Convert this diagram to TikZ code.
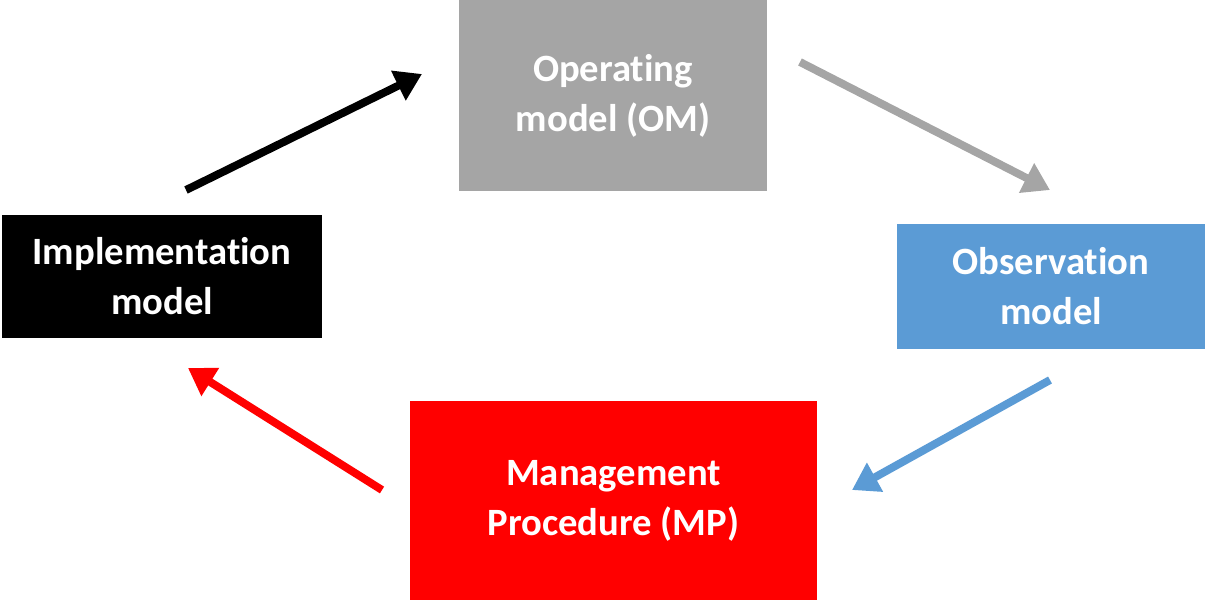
\documentclass[tikz,border=0pt]{standalone}
\usepackage{fontspec}
\setmainfont{Carlito}
\usepackage{tikz}
\usetikzlibrary{arrows.meta}

\definecolor{omgray}{HTML}{A5A5A5}
\definecolor{obsblue}{HTML}{5B9BD5}
\definecolor{mpred}{HTML}{FF0000}
% no ti ligature
\newcommand{\tiNoLig}{t\kern0pt i}

\tikzset{
  modelbox/.style={rectangle,draw=none,text=white,align=center,
    font=\fontsize{22}{28.5}\selectfont\bfseries,inner sep=0pt},
  cyclearrow/.style={line width=4.5pt,
    -{Triangle[length=15pt,width=18pt]}}
}

\begin{document}
\begin{tikzpicture}[x=0.02cm,y=-0.02cm]
\useasboundingbox (0,0) rectangle (1205,600);
\node [modelbox,fill=omgray,minimum width=6.16cm,minimum height=3.82cm] (om) at (613,95.5) {Opera\tiNoLig ng\\model (OM)};
\node [modelbox,fill=obsblue,minimum width=6.16cm,minimum height=2.5cm] (obs) at (1051,286.5) {Observa\tiNoLig on\\model};
\node [modelbox,fill=mpred,minimum width=8.14cm,minimum height=3.98cm] (mp) at (613.5,500.5) {Management\\Procedure (MP)};
\node [modelbox,fill=black,minimum width=6.4cm,minimum height=2.46cm] (impl) at (162,276.5) {Implementa\tiNoLig on\\model};
% arrow ends
\coordinate (impl out) at (186,190);
\coordinate (om in) at (422,74);
\coordinate (om out) at (800,62);
\coordinate (obs in) at (1050,190);
\coordinate (obs out) at (1050,380);
\coordinate (mp in) at (852,490);
\coordinate (mp out) at (382,490);
\coordinate (impl in) at (188,368);
\draw [cyclearrow,black] (impl out) -- (om in);
\draw [cyclearrow,omgray] (om out) -- (obs in);
\draw [cyclearrow,obsblue] (obs out) -- (mp in);
\draw [cyclearrow,mpred] (mp out) -- (impl in);
\end{tikzpicture}
\end{document}
